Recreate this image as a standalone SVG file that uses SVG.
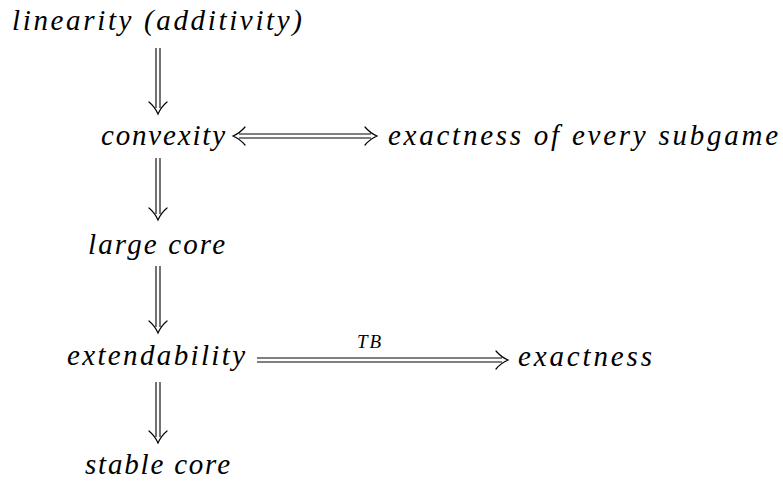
<svg xmlns="http://www.w3.org/2000/svg" width="783" height="481" viewBox="0 0 783 481">
<style>
text{font-family:'Liberation Serif',serif;font-style:italic;font-size:29px;fill:#000}
.lbl{font-size:19px}
.ln{stroke:#000;stroke-width:1.1;fill:none}
.hd{stroke:#000;stroke-width:1.2;fill:none;stroke-linecap:round}
</style>
<rect width="783" height="481" fill="#fff"/>
<g id="n-linearity"><text x="12" y="30" textLength="290" lengthAdjust="spacing">linearity (additivity)</text></g>
<g id="n-convexity"><text x="101" y="145" textLength="124" lengthAdjust="spacing">convexity</text></g>
<g id="n-exact-sub"><text x="388" y="145" textLength="390" lengthAdjust="spacing">exactness of every subgame</text></g>
<g id="n-large"><text x="88" y="254" textLength="137" lengthAdjust="spacing">large core</text></g>
<g id="n-ext"><text x="67" y="365" textLength="178" lengthAdjust="spacing">extendability</text></g>
<g id="n-exact"><text x="518" y="366" textLength="134" lengthAdjust="spacing">exactness</text></g>
<g id="n-stable"><text x="85" y="474" textLength="145" lengthAdjust="spacing">stable core</text></g>
<g id="connectors">
<path class="ln" d="M156,48V108M160,48V108"/>
<path class="hd" d="M149,102Q155,107 158,114Q161,107 167,102"/>
<path class="ln" d="M156,158V214M160,158V214"/>
<path class="hd" d="M149,208Q155,213 158,220Q161,213 167,208"/>
<path class="ln" d="M156,266V327M160,266V327"/>
<path class="hd" d="M149,321Q155,326 158,333Q161,326 167,321"/>
<path class="ln" d="M156,382V437M160,382V437"/>
<path class="hd" d="M149,431Q155,436 158,443Q161,436 167,431"/>
<path class="ln" d="M239,134H371M239,138H371"/>
<path class="hd" d="M245,127Q240,133 233,136Q240,139 245,145"/>
<path class="hd" d="M365,127Q370,133 377,136Q370,139 365,145"/>
<path class="ln" d="M257,358H502M257,362H502"/>
<path class="hd" d="M496,351Q501,357 508,360Q501,363 496,369"/>
<text class="lbl" x="370" y="348" text-anchor="middle" letter-spacing="2">TB</text>
</g>
</svg>
